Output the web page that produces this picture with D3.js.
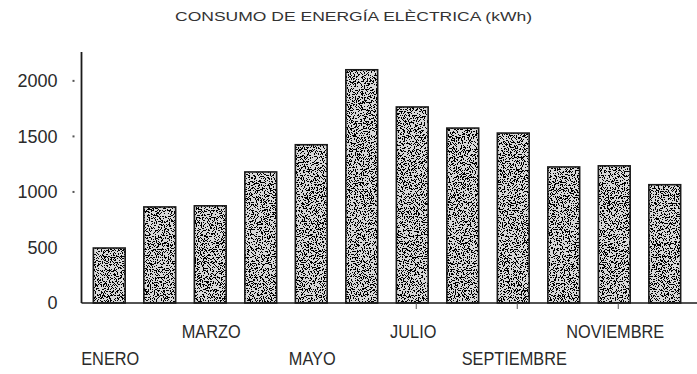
<!DOCTYPE html>
<html>
<head>
<meta charset="utf-8">
<script src="https://cdn.jsdelivr.net/npm/d3@7/dist/d3.min.js"></script>
<style>
  html, body { margin: 0; padding: 0; background: #fff; }
  svg { display: block; }
</style>
</head>
<body>
<svg id="chart" width="697" height="374"></svg>
<script>
// Monthly electricity consumption (kWh)
const months = ["ENERO", "FEBRERO", "MARZO", "ABRIL", "MAYO", "JUNIO",
                "JULIO", "AGOSTO", "SEPTIEMBRE", "OCTUBRE", "NOVIEMBRE", "DICIEMBRE"];
const consumption = [495, 865, 875, 1180, 1425, 2100, 1765, 1575, 1530, 1225, 1235, 1065];
const yTicks = [0, 500, 1000, 1500, 2000];
const title = "CONSUMO DE ENERGÍA ELÈCTRICA (kWh)";

const W = 697, H = 374;
const svg = d3.select("#chart");

// speckled grain used to fill the bars
const defs = svg.append("defs");
const grain = defs.append("filter").attr("id", "grain")
  .attr("x", 0).attr("y", 0).attr("width", "100%").attr("height", "100%");
grain.append("feTurbulence").attr("type", "fractalNoise")
  .attr("baseFrequency", 0.85).attr("numOctaves", 2).attr("seed", 7).attr("result", "n");
grain.append("feColorMatrix").attr("in", "n").attr("type", "matrix")
  .attr("values", "0 0 0 0 0  0 0 0 0 0  0 0 0 0 0  1 0 0 0 0").attr("result", "a");
grain.append("feComponentTransfer").attr("in", "a").attr("result", "t")
  .append("feFuncA").attr("type", "discrete")
  .attr("tableValues", "0 0 0 0 0 0 0 0 0 0 0 1 1 1 1 1 1 1 1 1");
grain.append("feComposite").attr("in", "t").attr("in2", "SourceGraphic").attr("operator", "in");

const axisX = 81.5, baseY = 303, topY = 52;

const x = d3.scaleBand()
  .domain(months)
  .range([84, 690])
  .paddingInner(0.37)
  .paddingOuter(0.185);

const y = d3.scaleLinear()
  .domain([0, 2260])
  .range([baseY, topY]);

// title
svg.append("text")
  .attr("x", 175).attr("y", 21)
  .attr("textLength", 357).attr("lengthAdjust", "spacingAndGlyphs")
  .style("font-family", "'Liberation Sans', Arial, sans-serif")
  .style("font-size", "13px")
  .attr("fill", "#333")
  .text(title);

// bars: grain fill with dark outline
const bars = svg.append("g");
bars.selectAll("rect.base").data(consumption).join("rect")
  .attr("class", "base")
  .attr("x", (d, i) => x(months[i]))
  .attr("y", d => y(d))
  .attr("width", x.bandwidth())
  .attr("height", d => y(0) - y(d))
  .attr("fill", "#d9d9d9");
bars.selectAll("rect.grain").data(consumption).join("rect")
  .attr("class", "grain")
  .attr("x", (d, i) => x(months[i]))
  .attr("y", d => y(d))
  .attr("width", x.bandwidth())
  .attr("height", d => y(0) - y(d))
  .attr("fill", "#2a2a2a")
  .attr("filter", "url(#grain)");
bars.selectAll("rect.edge").data(consumption).join("rect")
  .attr("class", "edge")
  .attr("x", (d, i) => x(months[i]))
  .attr("y", d => y(d))
  .attr("width", x.bandwidth())
  .attr("height", d => y(0) - y(d))
  .attr("fill", "none")
  .attr("stroke", "#1a1a1a")
  .attr("stroke-width", 1.6);

// y axis
const yAxis = d3.axisLeft(y).tickValues(yTicks).tickFormat(d3.format("d"))
  .tickSize(0).tickPadding(24);
const gy = svg.append("g").attr("transform", `translate(${axisX},0)`).call(yAxis);
gy.select(".domain").remove();
gy.selectAll("text")
  .style("font-family", "'Liberation Sans', Arial, sans-serif")
  .style("font-size", "18px")
  .attr("fill", "#2a2a2a");
svg.append("line")
  .attr("x1", axisX).attr("x2", axisX)
  .attr("y1", topY).attr("y2", baseY)
  .attr("stroke", "#1a1a1a").attr("stroke-width", 1.8);
// faint tick specks left of the axis
svg.append("g").selectAll("rect").data(yTicks.filter(t => t >= 1000)).join("rect")
  .attr("x", axisX - 9).attr("y", d => y(d) - 1)
  .attr("width", 2).attr("height", 2)
  .attr("fill", "#555");

// x axis baseline
svg.append("line")
  .attr("x1", axisX).attr("x2", W)
  .attr("y1", baseY).attr("y2", baseY)
  .attr("stroke", "#1a1a1a").attr("stroke-width", 1.6);

// month labels on every other month, staggered in two rows, condensed
const labelled = months.filter((m, i) => i % 2 === 0);
svg.append("g").selectAll("text").data(labelled).join("text")
  .attr("transform", (m, i) =>
    `translate(${x(m) + x.bandwidth() / 2 + 1},${i % 2 === 0 ? 365 : 338}) scale(0.86,1)`)
  .attr("text-anchor", "middle")
  .style("font-family", "'Liberation Sans', Arial, sans-serif")
  .style("font-size", "19px")
  .attr("fill", "#2a2a2a")
  .text(m => m);

// small tick marks under the baseline
const tickMonths = ["JULIO", "SEPTIEMBRE", "NOVIEMBRE"];
svg.append("g").selectAll("line").data(tickMonths).join("line")
  .attr("x1", m => x(m) + x.bandwidth() / 2 + 4)
  .attr("x2", m => x(m) + x.bandwidth() / 2 + 4)
  .attr("y1", baseY).attr("y2", baseY + 6)
  .attr("stroke", "#555").attr("stroke-width", 1);
</script>
</body>
</html>
